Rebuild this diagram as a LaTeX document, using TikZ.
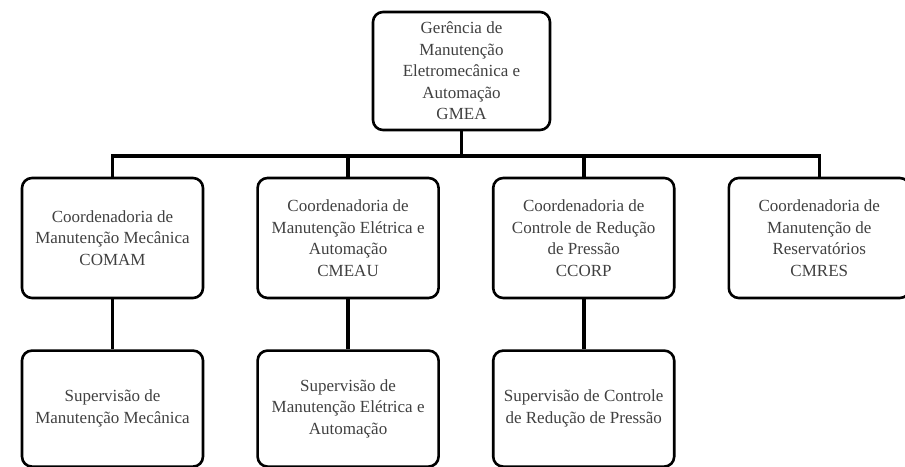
\documentclass[tikz,border=0pt]{standalone}
\usepackage{fontspec}
\setmainfont{Liberation Serif}
\usetikzlibrary{positioning}
\tikzset{
  unit/.style = {draw=black, line width=2.6pt, rounded corners=10pt, align=center,
                 minimum width=181pt, minimum height=120pt, inner sep=2pt,
                 text=black!75, font=\fontsize{17}{21.5}\selectfont},
  sub/.style  = {unit, minimum height=116pt},
  link/.style = {line width=3.6pt},
}
\begin{document}
\begin{tikzpicture}[x=1pt, y=1pt, node distance=50pt and 52pt]
  \useasboundingbox (0,0) rectangle (905,466);
  % management
  \node[unit, minimum width=177pt, minimum height=118pt] (gmea) at (461.5,395)
    {Gerência de\\ Manutenção\\ Eletromecânica e\\ Automação\\ GMEA};
  % coordinations
  \node[unit] (comam) at (112.5,228)
    {Coordenadoria de\\ Manutenção Mecânica\\ COMAM};
  \node[unit, right=52pt of comam] (cmeau)
    {Coordenadoria de\\ Manutenção Elétrica e\\ Automação\\ CMEAU};
  \node[unit, right=52pt of cmeau] (ccorp)
    {Coordenadoria de\\ Controle de Redução\\ de Pressão\\ CCORP};
  \node[unit, right=52pt of ccorp] (cmres)
    {Coordenadoria de\\ Manutenção de\\ Reservatórios\\ CMRES};
  % supervisions
  \node[sub, below=50pt of comam] (supmec)
    {Supervisão de\\ Manutenção Mecânica};
  \node[sub, below=50pt of cmeau] (supele)
    {Supervisão de\\ Manutenção Elétrica e\\ Automação};
  \node[sub, below=50pt of ccorp] (suprp)
    {Supervisão de Controle\\ de Redução de Pressão};
  % links
  \foreach \c in {comam,cmeau,ccorp,cmres}
    \draw[link] (gmea.south) -- ++(0,-25) -| (\c.north);
  \foreach \c/\s in {comam/supmec,cmeau/supele,ccorp/suprp}
    \draw[link] (\c.south) -- (\s.north);
\end{tikzpicture}
\end{document}
